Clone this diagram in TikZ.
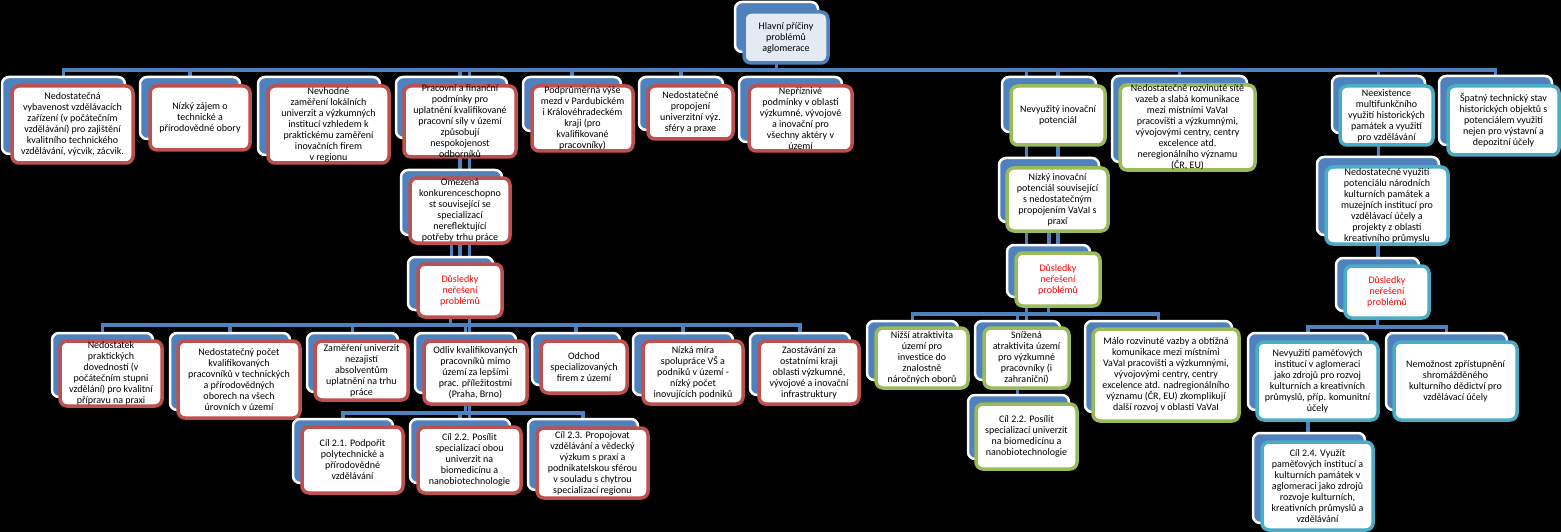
\documentclass[tikz,border=0pt]{standalone}
\usepackage{fontspec}
\setmainfont{Carlito}
\definecolor{cblue}{HTML}{4F81BD}
\definecolor{cred}{HTML}{C0504D}
\definecolor{cgreen}{HTML}{9BBB59}
\definecolor{cteal}{HTML}{4BACC6}
\definecolor{rootfill}{HTML}{E4EAF4}
\definecolor{dred}{HTML}{FF0000}
\pgfdeclarelayer{bglayer}
\pgfdeclarelayer{linelayer}
\pgfsetlayers{bglayer,linelayer,main}
\tikzset{
  backcard/.style={draw=white, line width=2.5pt, fill=cblue, rounded corners=7pt, anchor=north west, inner sep=0pt, outer sep=0pt},
  frontcard/.style={draw=#1, line width=3.5pt, fill=white, rounded corners=7pt, anchor=north west, inner sep=0pt, outer sep=0pt},
  cardtext/.style={align=center, font=\fontsize{10}{11}\selectfont, inner sep=0pt, text=black},
  conn/.style={draw=cblue, line width=3.8pt},
}
\newcommand\bk[5]{\node[backcard, minimum width={(#4-#2)*1pt}, minimum height={(#5-#3)*1pt}] (#1b) at (#2,#3) {};}
\newcommand\fr[7]{\node[frontcard=#2, minimum width={(#5-#3)*1pt}, minimum height={(#6-#4)*1pt}] (#1) at (#3,#4) {};
  \node[cardtext] (#1t) at (#1.center) {#7};}
\newcommand\dus{\textcolor{dred}{Důsledky}\\\textcolor{dred}{neřešení}\\\textcolor{dred}{problémů}}
\begin{document}
\begin{tikzpicture}[x=1pt,y=-1pt]
\begin{pgfonlayer}{bglayer}
\fill[black] (0,0) rectangle (1561,532);
\end{pgfonlayer}
\useasboundingbox (0,0) rectangle (1561,532);
% root
\bk{root}{735}{2}{818}{52}
\node[frontcard=cblue, fill=rootfill, minimum width=84pt, minimum height=51pt] (root) at (744,12) {};
\node[cardtext] (roott) at (root.center) {Hlavní příčiny\\problémů\\aglomerace};
% row 1
\bk{A}{2}{77}{125}{154}\fr{A}{cred}{12}{86}{133}{163}{Nedostatečná\\vybavenost vzdělávacích\\zařízení (v počátečním\\vzdělávání) pro zajištění\\kvalitního technického\\vzdělávání, výcvik, zácvik.}
\bk{B}{140}{77}{240}{139}\fr{B}{cred}{150}{86}{250}{150}{Nízký zájem o\\technické a\\přírodovědné obory}
\bk{C}{258}{77}{380}{155}\fr{C}{cred}{268}{86}{389}{163}{Nevhodné\\zaměření lokálních\\univerzit a výzkumných\\institucí vzhledem k\\praktickému zaměření\\inovačních firem\\v regionu}
\bk{D}{396}{77}{507}{138}\fr{D}{cred}{404}{86}{516}{157}{Pracovní a finanční\\podmínky pro\\uplatnění kvalifikované\\pracovní síly v území\\způsobují\\nespokojenost\\odborníků}
\bk{E}{523}{77}{621}{131}\fr{E}{cred}{532}{86}{633}{151}{Podprůměrná výše\\mezd v Pardubickém\\i Královéhradeckém\\kraji (pro\\kvalifikované\\pracovníky)}
\bk{F}{639}{77}{723}{130}\fr{F}{cred}{648}{86}{733}{139}{Nedostatečné\\propojení\\univerzitní výz.\\sféry a praxe}
\bk{G}{739}{77}{842}{142}\fr{G}{cred}{749}{86}{852}{151}{Nepříznivé\\podmínky v oblasti\\výzkumné, vývojové\\a inovační pro\\všechny aktéry v\\území}
\bk{H}{1002}{77}{1096}{132}\fr{H}{cgreen}{1011}{86}{1105}{145}{Nevyužitý inovační\\potenciál}
\bk{I}{1112}{76}{1247}{162}\fr{I}{cgreen}{1120}{85}{1255}{170}{Nedostatečně rozvinuté sítě\\vazeb a slabá komunikace\\mezi místními VaVaI\\pracovišti a výzkumnými,\\vývojovými centry, centry\\excelence atd.\\neregionálního významu\\(ČR, EU)}
\bk{J}{1332}{76}{1425}{133}\fr{J}{cteal}{1340}{86}{1433}{145}{Neexistence\\multifunkčního\\využití historických\\památek a využití\\pro vzdělávání}
\bk{K}{1439}{76}{1552}{145}\fr{K}{cteal}{1448}{86}{1559}{155}{Špatný technický stav\\historických objektů s\\potenciálem využití\\nejen pro výstavní a\\depozitní účely}
% red subtree
\bk{Da}{401}{170}{502}{235}\fr{Da}{cred}{410}{178}{510}{243}{Omezená\\konkurenceschopno\\st související se\\specializací\\nereflektující\\potřeby trhu práce}
\bk{Db}{408}{257}{493}{310}\fr{Db}{cred}{418}{264}{502}{317}{\dus}
\bk{Ra}{52}{333}{153}{397}\fr{Ra}{cred}{60}{341}{162}{406}{Nedostatek\\praktických\\dovedností (v\\počátečním stupni\\vzdělání) pro kvalitní\\přípravu na praxi}
\bk{Rb}{170}{333}{290}{410}\fr{Rb}{cred}{178}{341}{300}{418}{Nedostatečný počet\\kvalifikovaných\\pracovníků v technických\\a přírodovědných\\oborech na všech\\úrovních v území}
\bk{Rc}{307}{333}{398}{392}\fr{Rc}{cred}{315}{341}{408}{400}{Zaměření univerzit\\nezajistí\\absolventům\\uplatnění na trhu\\práce}
\bk{Rd}{415}{333}{516}{393}\fr{Rd}{cred}{424}{341}{527}{404}{Odliv kvalifikovaných\\pracovníků mimo\\území za lepšími\\prac. příležitostmi\\(Praha, Brno)}
\bk{Re}{532}{333}{620}{385}\fr{Re}{cred}{541}{341}{627}{393}{Odchod\\specializovaných\\firem z území}
\bk{Rf}{633}{333}{733}{395}\fr{Rf}{cred}{643}{341}{743}{404}{Nízká míra\\spolupráce VŠ a\\podniků v území -\\nízký počet\\inovujících podniků}
\bk{Rg}{750}{333}{850}{395}\fr{Rg}{cred}{759}{341}{859}{404}{Zaostávání za\\ostatními kraji\\oblasti výzkumné,\\vývojové a inovační\\infrastruktury}
\bk{Ca}{293}{419}{393}{483}\fr{Ca}{cred}{302}{427}{403}{493}{Cíl 2.1. Podpořit\\polytechnické a\\přírodovědné\\vzdělávání}
\bk{Cb}{410}{419}{510}{483}\fr{Cb}{cred}{418}{427}{521}{493}{Cíl 2.2. Posílit\\specializaci obou\\univerzit na\\biomedicínu a\\nanobiotechnologie}
\bk{Cc}{528}{419}{638}{490}\fr{Cc}{cred}{537}{428}{648}{498}{Cíl 2.3. Propojovat\\vzdělávání a vědecký\\výzkum s praxí a\\podnikatelskou sférou\\v souladu s chytrou\\specializací regionu}
% green subtree
\bk{Ha}{999}{158}{1099}{222}\fr{Ha}{cgreen}{1007}{168}{1108}{231}{Nízký inovační\\potenciál související\\s nedostatečným\\propojením VaVaI s\\praxí}
\bk{Hb}{1007}{245}{1090}{297}\fr{Hb}{cgreen}{1016}{253}{1100}{306}{\dus}
\bk{Ga}{867}{321}{958}{380}\fr{Ga}{cgreen}{876}{328}{968}{388}{Nižší atraktivita\\území pro\\investice do\\znalostně\\náročných oborů}
\bk{Gb}{975}{321}{1060}{380}\fr{Gb}{cgreen}{984}{328}{1069}{388}{Snížená\\atraktivita území\\pro výzkumné\\pracovníky (i\\zahraniční)}
\bk{Gc}{1085}{321}{1232}{412}\fr{Gc}{cgreen}{1093}{329}{1239}{421}{Málo rozvinuté vazby a obtížná\\komunikace mezi místními\\VaVaI pracovišti a výzkumnými,\\vývojovými centry, centry\\excelence atd. nadregionálního\\významu (ČR, EU) zkomplikují\\další rozvoj v oblasti VaVaI}
\bk{Gd}{968}{395}{1069}{459}\fr{Gd}{cgreen}{976}{404}{1077}{469}{Cíl 2.2. Posílit\\specializaci univerzit\\na biomedicínu a\\nanobiotechnologie}
% teal subtree
\bk{Ta}{1317}{157}{1439}{235}\fr{Ta}{cteal}{1326}{167}{1448}{244}{Nedostatečné využití\\potenciálu národních\\kulturních památek a\\muzejních institucí pro\\vzdělávací účely a\\projekty z oblasti\\kreativního průmyslu}
\bk{Tb}{1336}{258}{1419}{311}\fr{Tb}{cteal}{1345}{266}{1429}{318}{\dus}
\bk{Tc}{1248}{333}{1368}{410}\fr{Tc}{cteal}{1257}{342}{1378}{420}{Nevyužití paměťových\\institucí v aglomeraci\\jako zdrojů pro rozvoj\\kulturních a kreativních\\průmyslů, příp. komunitní\\účely}
\bk{Td}{1386}{333}{1507}{410}\fr{Td}{cteal}{1394}{342}{1517}{420}{Nemožnost zpřístupnění\\shromážděného\\kulturního dědictví pro\\vzdělávací účely}
\bk{Te}{1253}{433}{1365}{523}\fr{Te}{cteal}{1262}{442}{1373}{530}{Cíl 2.4. Využít\\paměťových institucí a\\kulturních památek v\\aglomeraci jako zdrojů\\rozvoje kulturních,\\kreativních průmyslů a\\vzdělávání}
% bus coordinates
\coordinate (busa) at (0,70);
\coordinate (busb) at (0,325);
\coordinate (busc) at (0,413);
\coordinate (busd) at (0,314);
\coordinate (buse) at (0,327);
\begin{pgfonlayer}{linelayer}
\foreach \c in {A,B,C,D,E,F,G,H,I,J,K}
  \draw[conn] (rootb.south) |- (\c b.north |- busa) -- (\c b.north);
\foreach \c in {Ra,Rb,Rc,Rd,Re,Rf,Rg}
  \draw[conn] (Dbb.south) |- (\c b.north |- busb) -- (\c b.north);
\foreach \c in {Ca,Cb,Cc}
  \draw[conn] (Rdb.south) |- (\c b.north |- busc) -- (\c b.north);
\foreach \c in {Ga,Gb,Gc}
  \draw[conn] (Hbb.south) |- (\c b.north |- busd) -- (\c b.north);
\foreach \c in {Tc,Td}
  \draw[conn] (Tbb.south) |- (\c b.north |- buse) -- (\c b.north);
\draw[conn] (Db.south) -- (Db.south |- Dab.north);
\draw[conn] (Dab.south) -- (Dab.south |- Dbb.north);
\draw[conn] (Hb.south) -- (Hb.south |- Hab.north);
\draw[conn] (Hab.south) -- (Hab.south |- Hbb.north);
\draw[conn] (Gbb.south) -- (Gbb.south |- Gdb.north);
\draw[conn] (Jb.south) -- (Jb.south |- Tab.north);
\draw[conn] (Tab.south) -- (Tab.south |- Tbb.north);
\draw[conn] (Tcb.south) -- (Tcb.south |- Teb.north);
\end{pgfonlayer}
\end{tikzpicture}
\end{document}
